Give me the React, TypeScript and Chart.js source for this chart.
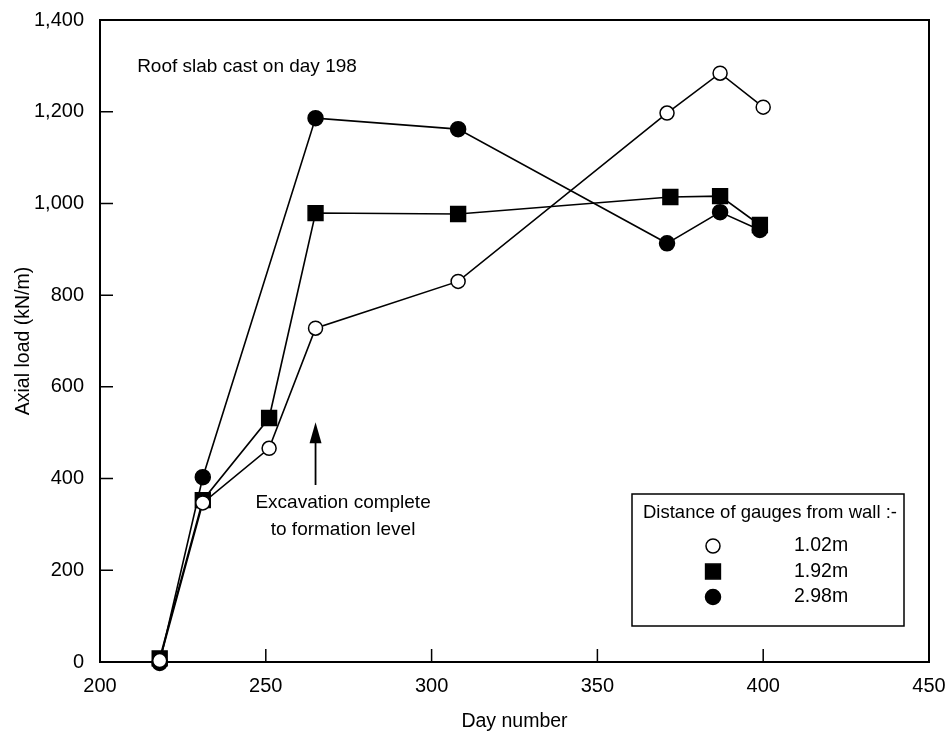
import React, { useEffect, useRef } from 'react';
import { Chart, registerables } from 'chart.js';

Chart.register(...registerables);

// Axial load measured by gauges at three distances from the wall
const days102 = [218, 231, 251, 265, 308, 371, 387, 400];
const load102 = [3, 347, 466, 728, 830, 1197, 1284, 1210];

const days192 = [218, 231, 251, 265, 308, 372, 387, 399];
const load192 = [8, 353, 532, 979, 977, 1014, 1016, 953];

const days298 = [218, 231, 265, 308, 371, 387, 399];
const load298 = [-2, 403, 1186, 1162, 913, 981, 942];

const seriesLabels = ['1.02m', '1.92m', '2.98m'];
const legendTitle = 'Distance of gauges from wall :-';
const noteRoof = 'Roof slab cast on day 198';
const noteExcavation = ['Excavation complete', 'to formation level'];
const excavationDay = 265;

const xTicks = [200, 250, 300, 350, 400, 450];
const yTicks = [0, 200, 400, 600, 800, 1000, 1200, 1400];

const FONT = '"Liberation Sans", Arial, Helvetica, sans-serif';

const toPoints = (xs: number[], ys: number[]) => xs.map((x, i) => ({ x, y: ys[i] }));

type Marker = { style: 'circle' | 'rect'; fill: string; radius: number };
const markers: Marker[] = [
  { style: 'circle', fill: '#ffffff', radius: 7 },
  { style: 'rect', fill: '#000000', radius: 10.5 },
  { style: 'circle', fill: '#000000', radius: 7.5 },
];

function drawMarker(ctx: CanvasRenderingContext2D, m: Marker, x: number, y: number) {
  ctx.save();
  ctx.fillStyle = m.fill;
  ctx.strokeStyle = '#000';
  ctx.lineWidth = 1.5;
  ctx.beginPath();
  if (m.style === 'circle') {
    ctx.arc(x, y, m.radius, 0, Math.PI * 2);
  } else {
    const s = Math.SQRT1_2 * m.radius;
    ctx.rect(x - s, y - s, 2 * s, 2 * s);
  }
  ctx.fill();
  ctx.stroke();
  ctx.restore();
}

// Frame on top/right plus inward-pointing tick marks
const framePlugin = {
  id: 'frameTicks',
  beforeDatasetsDraw(chart: any) {
    const { ctx, chartArea: a, scales } = chart;
    ctx.save();
    ctx.strokeStyle = '#000';
    ctx.lineWidth = 2;
    ctx.beginPath();
    ctx.moveTo(a.left, a.top);
    ctx.lineTo(a.right, a.top);
    ctx.lineTo(a.right, a.bottom);
    ctx.stroke();
    ctx.lineWidth = 1.5;
    ctx.beginPath();
    yTicks.slice(1, -1).forEach((v) => {
      const y = scales.y.getPixelForValue(v);
      ctx.moveTo(a.left, y);
      ctx.lineTo(a.left + 13, y);
    });
    xTicks.slice(1, -1).forEach((v) => {
      const x = scales.x.getPixelForValue(v);
      ctx.moveTo(x, a.bottom);
      ctx.lineTo(x, a.bottom - 13);
    });
    ctx.stroke();
    ctx.restore();
  },
};

// Notes, arrow and the boxed key
const notesPlugin = {
  id: 'notesKey',
  afterDatasetsDraw(chart: any) {
    const { ctx, chartArea: a, scales } = chart;
    const sx = scales.x;
    const sy = scales.y;
    ctx.save();
    ctx.fillStyle = '#000';
    ctx.strokeStyle = '#000';
    ctx.font = `19px ${FONT}`;
    ctx.textBaseline = 'middle';

    ctx.textAlign = 'left';
    ctx.fillText(noteRoof, sx.getPixelForValue(211.2), sy.getPixelForValue(1297));

    // arrow marking the end of excavation
    const ax = sx.getPixelForValue(excavationDay);
    const tipY = sy.getPixelForValue(523);
    const baseY = sy.getPixelForValue(386);
    ctx.lineWidth = 1.8;
    ctx.beginPath();
    ctx.moveTo(ax, baseY);
    ctx.lineTo(ax, tipY + 14);
    ctx.stroke();
    ctx.beginPath();
    ctx.moveTo(ax, tipY);
    ctx.lineTo(ax - 6, tipY + 21);
    ctx.lineTo(ax + 6, tipY + 21);
    ctx.closePath();
    ctx.fill();

    ctx.textAlign = 'center';
    const tx = sx.getPixelForValue(273.3);
    ctx.fillText(noteExcavation[0], tx, sy.getPixelForValue(347));
    ctx.fillText(noteExcavation[1], tx, sy.getPixelForValue(288));

    // key box
    const bw = 272;
    const bh = 132;
    const bx = a.right - 25 - bw;
    const by = a.bottom - 36 - bh;
    ctx.fillStyle = '#fff';
    ctx.fillRect(bx, by, bw, bh);
    ctx.lineWidth = 1.5;
    ctx.strokeRect(bx, by, bw, bh);
    ctx.fillStyle = '#000';
    ctx.textAlign = 'left';
    ctx.font = `18.5px ${FONT}`;
    ctx.fillText(legendTitle, bx + 11, by + 19);
    ctx.font = `19.5px ${FONT}`;
    seriesLabels.forEach((lab, i) => {
      const ry = by + 52 + i * 25.5;
      drawMarker(ctx, markers[i], bx + 81, ry);
      ctx.fillStyle = '#000';
      ctx.fillText(lab, bx + 162, ry);
    });
    ctx.restore();
  },
};

export default function App() {
  const canvasRef = useRef<HTMLCanvasElement | null>(null);

  useEffect(() => {
    if (!canvasRef.current) return;
    const mk = (label: string, data: { x: number; y: number }[], m: Marker) => ({
      label,
      data,
      showLine: true,
      borderColor: '#000',
      borderWidth: 1.6,
      tension: 0,
      pointStyle: m.style,
      pointRadius: m.radius,
      pointBackgroundColor: m.fill,
      pointBorderColor: '#000',
      pointBorderWidth: 1.5,
      clip: false as const,
    });

    const chart = new Chart(canvasRef.current, {
      type: 'scatter',
      data: {
        datasets: [
          mk(seriesLabels[0], toPoints(days102, load102), markers[0]),
          mk(seriesLabels[1], toPoints(days192, load192), markers[1]),
          mk(seriesLabels[2], toPoints(days298, load298), markers[2]),
        ],
      },
      options: {
        animation: false,
        responsive: false,
        events: [],
        layout: { padding: { top: 20, right: 17, left: 0, bottom: 0 } },
        plugins: {
          legend: { display: false },
          tooltip: { enabled: false },
        },
        scales: {
          x: {
            type: 'linear',
            min: 200,
            max: 450,
            afterFit: (s: any) => {
              s.height = 71;
              s.paddingLeft = 0;
              s.paddingRight = 0;
            },
            afterBuildTicks: (s: any) => {
              s.ticks = xTicks.map((v) => ({ value: v }));
            },
            grid: { display: false, drawTicks: false },
            border: { display: true, color: '#000', width: 2 },
            ticks: {
              color: '#000',
              font: { family: FONT, size: 20 },
              padding: 12,
              maxRotation: 0,
            },
            title: {
              display: true,
              text: 'Day number',
              color: '#000',
              font: { family: FONT, size: 19.5 },
              padding: { top: 0, bottom: 0 },
            },
          },
          y: {
            type: 'linear',
            min: 0,
            max: 1400,
            afterFit: (s: any) => {
              s.width = 100;
              s.paddingTop = 0;
              s.paddingBottom = 0;
            },
            afterBuildTicks: (s: any) => {
              s.ticks = yTicks.map((v) => ({ value: v }));
            },
            grid: { display: false, drawTicks: false },
            border: { display: true, color: '#000', width: 2 },
            ticks: {
              color: '#000',
              font: { family: FONT, size: 20 },
              padding: 16,
              callback: (v: any) => Number(v).toLocaleString('en-US'),
            },
            title: {
              display: true,
              text: 'Axial load (kN/m)',
              color: '#000',
              font: { family: FONT, size: 19.5 },
              padding: { top: 12, bottom: 0 },
            },
          },
        },
      },
      plugins: [framePlugin, notesPlugin],
    });
    return () => chart.destroy();
  }, []);

  return (
    <div style={{ position: 'fixed', left: 0, top: 0, width: 946, height: 733, background: '#fff' }}>
      <canvas ref={canvasRef} width={946} height={733} style={{ width: 946, height: 733, display: 'block' }} />
    </div>
  );
}
